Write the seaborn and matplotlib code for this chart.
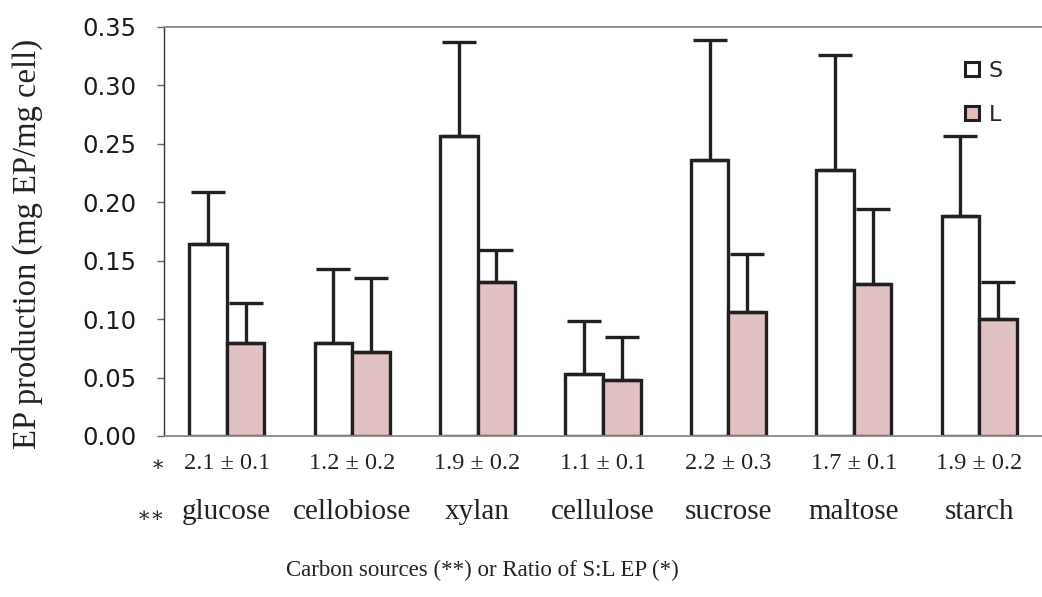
import numpy as np
import pandas as pd
import seaborn as sns
import matplotlib.pyplot as plt
from matplotlib.patches import Patch
from matplotlib.transforms import blended_transform_factory

sources = ["glucose", "cellobiose", "xylan", "cellulose", "sucrose", "maltose", "starch"]
ratios = ["2.1 \u00b1 0.1", "1.2 \u00b1 0.2", "1.9 \u00b1 0.2", "1.1 \u00b1 0.1",
          "2.2 \u00b1 0.3", "1.7 \u00b1 0.1", "1.9 \u00b1 0.2"]
s_mean = [0.164, 0.080, 0.257, 0.053, 0.236, 0.228, 0.188]
s_err = [0.045, 0.063, 0.080, 0.045, 0.103, 0.098, 0.069]
l_mean = [0.080, 0.072, 0.132, 0.048, 0.106, 0.130, 0.100]
l_err = [0.034, 0.063, 0.027, 0.037, 0.050, 0.064, 0.032]

df = pd.DataFrame({
    "source": sources * 2,
    "strain": ["S"] * len(sources) + ["L"] * len(sources),
    "value": s_mean + l_mean,
    "err": s_err + l_err,
})

sns.set_theme(style="white")
serif = ["Liberation Serif", "DejaVu Serif"]
pink = "#E6BCBC"
ink = "#231F20"

fig = plt.figure(figsize=(10.42, 5.97), dpi=100)
ax = fig.add_axes([0.1574, 0.2697, 0.8426, 0.6851])

sns.barplot(data=df, x="source", y="value", hue="strain", order=sources,
            hue_order=["S", "L"], palette={"S": "white", "L": pink},
            width=0.6, errorbar=None, edgecolor=ink, linewidth=2.4,
            legend=False, ax=ax)

# upward-only error bars at the bar centres
for cont, errs in zip(ax.containers, [s_err, l_err]):
    xs = [p.get_x() + p.get_width() / 2 for p in cont.patches]
    ys = [p.get_height() for p in cont.patches]
    ax.errorbar(xs, ys, yerr=[np.zeros(len(errs)), errs], fmt="none",
                ecolor=ink, elinewidth=2.4, capsize=12, capthick=2.4, zorder=1)

ax.set_ylim(0, 0.35)
ax.set_xlim(-0.5, 6.5)
ax.set_yticks(np.arange(0, 0.351, 0.05))
ax.set_yticklabels([f"{v:.2f}" for v in np.arange(0, 0.351, 0.05)],
                   fontsize=17.5, family="DejaVu Sans", color="#1a1a1a")
ax.tick_params(axis="y", left=True, length=5, width=1, color="#666666", pad=15)
ax.tick_params(axis="x", bottom=False, pad=6)
ax.set_xticks(range(len(sources)))
ax.set_xticklabels(ratios, fontsize=17.5, family=serif, color="#222222")

for side in ["top", "bottom"]:
    ax.spines[side].set_color("#888888")
    ax.spines[side].set_linewidth(1.3)
ax.spines["left"].set_color("#333333")
ax.spines["left"].set_linewidth(1.0)
ax.spines["right"].set_visible(False)

tr = blended_transform_factory(ax.transData, ax.transAxes)
for i, name in enumerate(sources):
    ax.text(i, -0.185, name, transform=tr, ha="center", va="center",
            fontsize=21, family=serif, color="#222222")
ax.text(-0.49, -0.075, "\u2217", transform=tr, ha="right", va="center",
        fontsize=15, family=serif, color="#222222")
ax.text(-0.49, -0.2, "\u2217\u2217", transform=tr, ha="right", va="center",
        fontsize=15, family=serif, color="#222222")

ax.set_ylabel("EP production (mg EP/mg cell)", fontsize=23.5, family=serif,
              color="#222222")
ax.yaxis.set_label_coords(-0.138, 0.47)
ax.set_xlabel("")
fig.text(0.463, 0.045, "Carbon sources (**) or Ratio of S:L EP (*)",
         ha="center", va="center", fontsize=16.5, family=serif, color="#222222")

handles = [Patch(facecolor="white", edgecolor=ink, linewidth=2.2, label="S"),
           Patch(facecolor=pink, edgecolor=ink, linewidth=2.2, label="L")]
ax.legend(handles=handles, loc="upper left", bbox_to_anchor=(0.9, 0.945),
          frameon=False, handlelength=0.6, handleheight=0.6, handletextpad=0.45,
          labelspacing=1.1, borderpad=0, prop={"family": "DejaVu Sans", "size": 16})

fig.savefig("out.png", dpi=100, facecolor="white")
